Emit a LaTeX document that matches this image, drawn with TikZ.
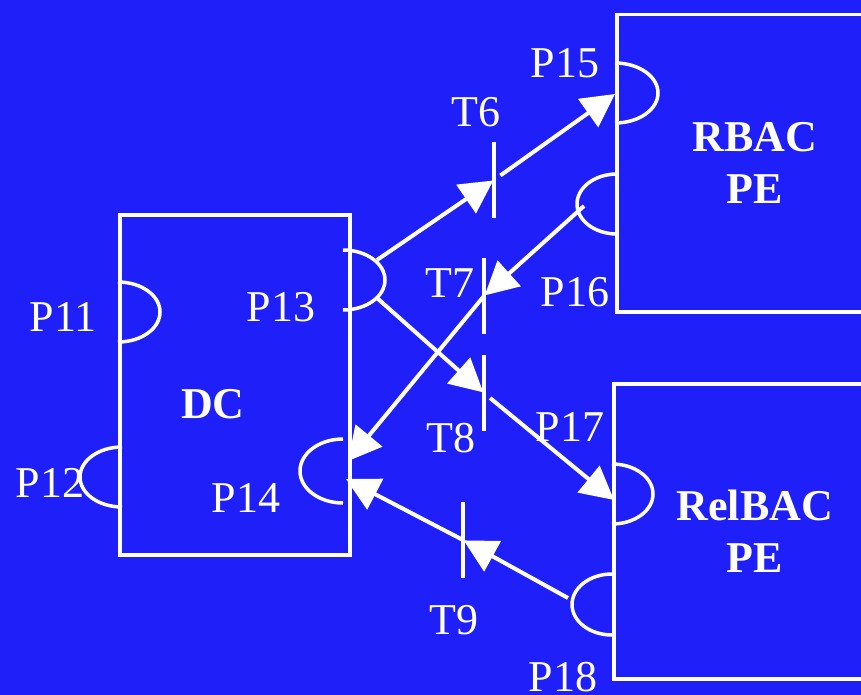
\documentclass[tikz,border=0pt]{standalone}
\usepackage{fontspec}
\setmainfont{Liberation Serif}
\usetikzlibrary{arrows.meta,positioning}
\definecolor{slideblue}{HTML}{1F1FFA}

\begin{document}
\begin{tikzpicture}[x=1pt,y=-1pt,
  every node/.style={text=white,inner sep=0pt,font=\fontsize{44}{52}\selectfont},
  box/.style={draw=white,line width=3.5pt,anchor=north west,align=center,
    font=\fontsize{44}{52}\selectfont\bfseries},
  bar/.style={minimum height=76pt,minimum width=1pt},
  port/.style={draw=white,line width=3.5pt},
  flow/.style={draw=white,line width=4pt,-{Triangle[length=33pt,width=34pt]}}]
\clip (0,0) rectangle (861,695);
\fill[slideblue] (0,0) rectangle (861,695);
\node[box,minimum width=230pt,minimum height=340pt] (dc) at (118,213) {};
\node[font=\fontsize{44}{52}\selectfont\bfseries] (dclabel) at (213,404) {DC};
\node[box,minimum width=276pt,minimum height=297pt] (rbac) at (615,13) {RBAC\\PE};
\node[box,minimum width=282pt,minimum height=295pt] (relbac) at (612,382) {RelBAC\\PE};
% places
\draw[port] (118,282) arc[start angle=-90,end angle=90,x radius=42,y radius=30];
\draw[port] (122,447) arc[start angle=-90,end angle=-270,x radius=42,y radius=30];
\draw[port] (343,250) arc[start angle=-90,end angle=90,x radius=42,y radius=30];
\draw[port] (343,439) arc[start angle=-90,end angle=-270,x radius=43,y radius=32];
\draw[port] (615,63) arc[start angle=-90,end angle=90,x radius=43,y radius=30];
\draw[port] (617,174) arc[start angle=-90,end angle=-270,x radius=40,y radius=30];
\draw[port] (612,464) arc[start angle=-90,end angle=90,x radius=41,y radius=30];
\draw[port] (612,574) arc[start angle=-90,end angle=-270,x radius=40,y radius=30.5];
\node (p11lbl) at (63,317) {P11};
\node (p12lbl) at (50,483) {P12};
\node (p13lbl) at (281,307) {P13};
\node (p14lbl) at (246,498) {P14};
\node (p15lbl) at (565,63) {P15};
\node (p16lbl) at (575,292) {P16};
\node (p17lbl) at (570,427) {P17};
\node (p18lbl) at (563,677) {P18};
\coordinate (p13a) at (377,260);
\coordinate (p13b) at (377,298);
\coordinate (p14a) at (348,461);
\coordinate (p14b) at (346,479);
\coordinate (p15) at (615,94);
\coordinate (p16) at (584,206);
\coordinate (p17) at (614,500);
\coordinate (p18) at (568,598);
% transitions
\node[bar] (t6) at (494,180) {};
\node[bar] (t7) at (484,296) {};
\node[bar] (t8) at (484,393) {};
\node[bar] (t9) at (463,540) {};
\foreach \t in {t6,t7,t8,t9} \draw[port] (\t.north) -- (\t.south);
\node (t6lbl) at (476,112) {T6};
\node (t7lbl) at (450,283) {T7};
\node (t8lbl) at (451,438) {T8};
\node (t9lbl) at (454,620) {T9};
\draw[flow] (p13a) -- (t6);
\draw[flow,shorten <=7pt] (t6) -- (p15);
\draw[flow] (p16) -- (t7);
\draw[flow] (t7) -- (p14a);
\draw[flow] (p13b) -- (t8);
\draw[flow,shorten <=7pt] (t8) -- (p17);
\draw[flow] (p18) -- (t9);
\draw[flow] (t9) -- (p14b);
\end{tikzpicture}
\end{document}
